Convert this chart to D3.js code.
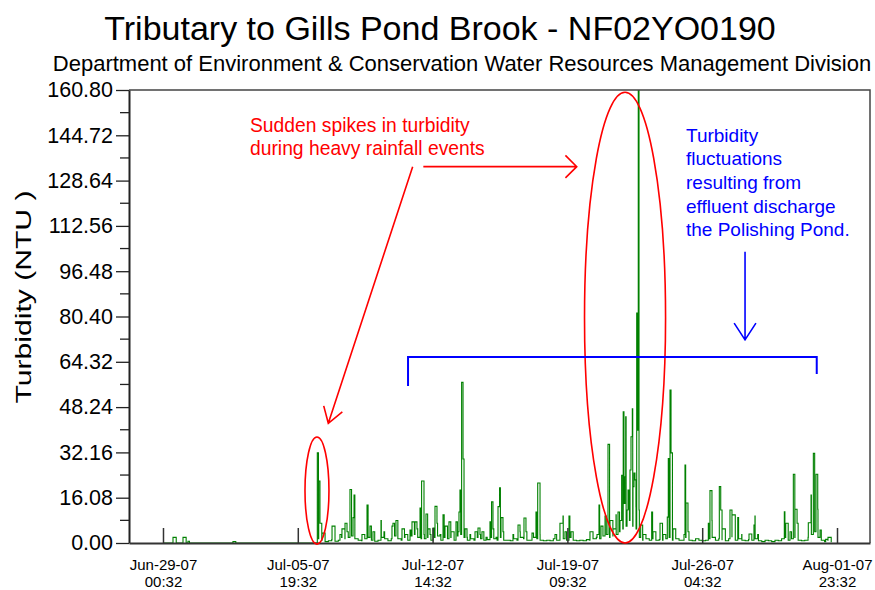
<!DOCTYPE html>
<html><head><meta charset="utf-8">
<script src="https://cdn.jsdelivr.net/npm/d3@7"></script>
<style>body{margin:0;background:#fff} svg{display:block}</style>
</head><body><svg id="c" width="875" height="590"></svg>
<script>
// ---------------- data ----------------
const titleText = "Tributary to Gills Pond Brook - NF02YO0190";
const subtitleText = "Department of Environment & Conservation Water Resources Management Division";
const yLabelText = "Turbidity (NTU  )";
const yTicks = [0, 16.08, 32.16, 48.24, 64.32, 80.40, 96.48, 112.56, 128.64, 144.72, 160.80];
const yTickLabels = ["0.00","16.08","32.16","48.24","64.32","80.40","96.48","112.56","128.64","144.72","160.80"];
const xTickDates = ["2007-06-29 00:32","2007-07-05 19:32","2007-07-12 14:32","2007-07-19 09:32","2007-07-26 04:32","2007-08-01 23:32"];
const xTickLine1 = ["Jun-29-07","Jul-05-07","Jul-12-07","Jul-19-07","Jul-26-07","Aug-01-07"];
const xTickLine2 = ["00:32","19:32","14:32","09:32","04:32","23:32"];
const xDomain = ["2007-06-27 07:26","2007-08-03 15:26"];
const seriesStart = "2007-06-29 00:32";
const baselineStepHours = 4;
// background turbidity, one reading every 4 h from seriesStart
const baselineValues = [
 0,0,0,0,0,0,0,0,0,0, 0,0,0,0,0,0,0,0,0,0, 0,0,0,0,0,0,0,0,0,0, 0,0,0,0,0,0,0,0,0,0, 0,0,0,0,0,0,0,
 1.5,1,0.5,0.8,1.2,0.6,1,2,1.5,2,
 2.5,1.5,1,0.8,1.5,2,1,0.6,1,2,
 1.5,0.8,1.5,2.5,1.5,1,2,1,2.5,3,
 2,1.5,1.5,2,1,2,2.5,1,2,1.5,
 2,1,2.5,3,2,1,1.5,1,2,1.5,
 1,1.2,2,1.5,1,2,1,1,0.8,1.5,
 1,2,1.5,1,1,2,1.5,1,0.8,1,
 0.8,1.5,1,2,1.5,1,2,1,0.8,1,
 0.8,1.2,1,1.5,2,1.5,2.5,3,2,2.5,
 3,4,5,6,8,6,5,2,1,1.5,
 1,1.5,1,1.2,1,1.5,2,1,1.5,1,
 1,2,1,0.8,1.5,1,0.8,1,1.5,2,
 1,1.5,1,0.8,1.5,2,1,1.5,1,0.8,
 1.2,1,1.5,0.8,0.5,1,0.8,0.5,1,0.8,
 1.5,2,1,1.5,2,1,0.8,1,2,3,
 4,2,1,0.5,1,0.3
];
// individual peaks: hours after seriesStart and turbidity (NTU)
const spikeHours = [12.1,24.2,30.2,84.6,
 186.6,188.3,189.8,192.3,204.4,214,216.4,220.1,222.5,226.1,229.8,231,240.6,246.7,250.3,253.9,263.6,267.2,
 276.9,278.1,281.7,289,292.6,298.7,301.1,304.7,307.1,310.8,312.7,315.6,318,320.4,322.9,326.5,328.9,331.3,
 335,338.6,341,345.8,348.3,354.3,356.7,357.9,359.1,361.1,362.8,365.2,367.6,371.2,377.3,380.9,383.3,385.7,
 390.6,395.4,397.3,399,402.7,405.1,407,408.7,411.1,423.2,429.3,431.7,436.5,438.9,446.2,451,453.1,455.9,
 474,480,483.7,486.1,490.9,493.4,516.3,524.8,527.2,529.6,534.5,538.1,540.5,544.1,547.8,550.2,552.6,554.6,
 556.5,557.4,558.6,559.5,561.1,562.3,563.5,564.7,565.9,567.5,568.3,569.5,570.7,571.9,572.8,573.8,574.7,
 575.6,577.6,580.4,590.9,592.5,601,604.6,609.8,611,613.1,614.3,616.7,630,631.2,632.4,634.8,659.4,661.4,
 663.8,672.7,674.4,676,685.6,688,695,699.8,708.6,714.6,715.8,719.1,751.3,753,758.2,762.2,764.2,766.7,
 780.3,783.6,786.4,789.6,791.7,794.5,801.3,804.1];
const spikeValues = [2,2,0.6,0.5,
 32,22,7,3.5,6,3,5,7,4,19,9,17,3,13.5,6,4,8,4,
 6,7,8,5,3,4.6,7.5,7.5,5,12.4,22,3,10.3,5,3,5.3,13,7,
 3,10,6,7.5,4,7.5,4,11,18.8,57,29.8,5,2,3,4,5.3,3,4,
 2,7.5,14.6,5,2,12.9,19.6,9,4,3,6.4,4,8.9,4,3.5,11,21.3,3,
 3,7,9.6,4,9.6,4,4,3,13.5,6,9.6,35,8,5,10,11,8,24,
 46.6,14,23.5,44.8,11.7,18.8,12,25.9,37.7,47.6,20,24.8,22.4,12.9,81.6,40,160.8,
 11.7,6.4,3,11,4,7,3,9.2,30,54.3,32,5,3,27.7,14.2,4,7,18.6,
 8,20,11.7,5,11.7,10,9,3,3.2,6.4,9.6,3,11.1,7,4,24.4,12,7,
 7.2,17,31.8,24.4,12,4.6,1.3,2];

// ---------------- setup ----------------
const FONT = "'Liberation Sans', Arial, sans-serif";
const svg = d3.select("#c");
const plot = {left:129, right:870, top:90, bottom:543};
const parse = d3.timeParse("%Y-%m-%d %H:%M");
const x = d3.scaleTime().domain(xDomain.map(parse)).range([plot.left, plot.right]);
const y = d3.scaleLinear().domain([0, 160.8]).range([plot.bottom, plot.top]);
const t0 = parse(seriesStart);
const atHours = h => new Date(t0.getTime() + h * 3600e3);
const ax = h => x(atHours(h));
const ay = v => y(v);

const series = baselineValues.map((v, i) => ({t: atHours(i * baselineStepHours), v}))
  .concat(spikeHours.map((h, i) => ({t: atHours(h), v: spikeValues[i]})))
  .sort((a, b) => a.t - b.t);

svg.append("rect").attr("width", 875).attr("height", 590).attr("fill", "#fff");

// title
svg.append("text").attr("x", 440).attr("y", 40).attr("text-anchor", "middle")
  .attr("font-family", FONT).attr("font-size", 34).attr("fill", "#000").text(titleText);
svg.append("text").attr("x", 462).attr("y", 71).attr("text-anchor", "middle")
  .attr("font-family", FONT).attr("font-size", 22).attr("fill", "#000").text(subtitleText);

// clip
svg.append("clipPath").attr("id", "clip").append("rect")
  .attr("x", plot.left).attr("y", plot.top).attr("width", plot.right - plot.left).attr("height", plot.bottom - plot.top);

// data line
svg.append("path").datum(series).attr("clip-path", "url(#clip)")
  .attr("fill", "none").attr("stroke", "#008000").attr("stroke-width", 1.1)
  .attr("d", d3.line().curve(d3.curveStepAfter).x(d => x(d.t)).y(d => y(d.v)));

// frame (top & right)
svg.append("path").attr("fill", "none").attr("stroke", "#444").attr("stroke-width", 1.5)
  .attr("d", `M${plot.left},${plot.top}H${plot.right}V${plot.bottom}`);

// y axis
const yAxis = svg.append("g").attr("transform", `translate(${plot.left},0)`)
  .call(d3.axisLeft(y).tickValues(yTicks).tickFormat((d, i) => yTickLabels[i]).tickSize(13).tickPadding(3).tickSizeOuter(0));
yAxis.select(".domain").attr("stroke", "#222").attr("stroke-width", 2);
yAxis.selectAll(".tick line").attr("stroke", "#222").attr("stroke-width", 1.3);
yAxis.selectAll(".tick text").attr("font-family", FONT).attr("font-size", 21.5).attr("fill", "#000");
yAxis.selectAll(".minor").data(d3.pairs(yTicks).map(p => (p[0] + p[1]) / 2)).enter().append("line")
  .attr("x1", -9).attr("x2", 0).attr("y1", d => y(d)).attr("y2", d => y(d)).attr("stroke", "#222").attr("stroke-width", 1.3);

// x axis
const xDates = xTickDates.map(parse);
const xAxis = svg.append("g").attr("transform", `translate(0,${plot.bottom})`)
  .call(d3.axisBottom(x).tickValues(xDates).tickFormat("").tickSizeInner(-15).tickSizeOuter(0));
xAxis.select(".domain").attr("stroke", "#333").attr("stroke-width", 2);
xAxis.selectAll(".tick line").attr("stroke", "#333").attr("stroke-width", 1.5);
xAxis.selectAll(".tick").each(function(d, i) {
  const g = d3.select(this);
  g.append("text").attr("y", 27).attr("text-anchor", "middle").attr("font-family", FONT)
    .attr("font-size", 15).attr("fill", "#000").text(xTickLine1[i]);
  g.append("text").attr("y", 44).attr("text-anchor", "middle").attr("font-family", FONT)
    .attr("font-size", 15).attr("fill", "#000").text(xTickLine2[i]);
});

// y label
svg.append("text").attr("transform", "translate(31,297) rotate(-90)").attr("text-anchor", "middle")
  .attr("font-family", FONT).attr("font-size", 22).attr("fill", "#000")
  .attr("textLength", 213).attr("lengthAdjust", "spacingAndGlyphs").text(yLabelText);

// ---------------- annotations ----------------
const RED = "#ff0000", BLUE = "#0000ff";
function ellipse(h, v, rh, rv, color) {
  svg.append("ellipse").attr("cx", ax(h)).attr("cy", ay(v))
    .attr("rx", ax(h + rh) - ax(h)).attr("ry", ay(v - rv) - ay(v))
    .attr("fill", "none").attr("stroke", color).attr("stroke-width", 1.6);
}
function arrow(h1, v1, h2, v2, len, angDeg, color) {
  const x1 = ax(h1), y1 = ay(v1), x2 = ax(h2), y2 = ay(v2);
  const a = Math.atan2(y1 - y2, x1 - x2), da = angDeg * Math.PI / 180;
  const p = d3.path();
  p.moveTo(x1, y1); p.lineTo(x2, y2);
  p.moveTo(x2 + len * Math.cos(a + da), y2 + len * Math.sin(a + da)); p.lineTo(x2, y2);
  p.lineTo(x2 + len * Math.cos(a - da), y2 + len * Math.sin(a - da));
  svg.append("path").attr("d", p.toString()).attr("fill", "none").attr("stroke", color).attr("stroke-width", 1.6);
}
ellipse(186.2, 18.6, 14.5, 19.0, RED);
ellipse(558.7, 80.0, 49, 80.0, RED);
arrow(301.9, 133.6, 199.9, 42.5, 18, 33, RED);
arrow(314.8, 133.6, 500.3, 133.6, 16, 45, RED);
arrow(703.8, 103.4, 703.8, 72.1, 20, 33, BLUE);
svg.append("path").attr("fill", "none").attr("stroke", BLUE).attr("stroke-width", 2)
  .attr("d", d3.line()([[ax(296.3), ay(55.7)], [ax(296.3), ay(66.0)], [ax(790.5), ay(66.0)], [ax(790.5), ay(60.0)]]));

const redLines = ["Sudden spikes in turbidity", "during heavy rainfall events"];
const blueLines = ["Turbidity", "fluctuations", "resulting from", "effluent discharge", "the Polishing Pond."];
redLines.forEach((s, i) => svg.append("text").attr("x", ax(105.2)).attr("y", ay(145.9) + i * 23.5)
  .attr("font-family", FONT).attr("font-size", 19.3).attr("fill", RED).text(s));
blueLines.forEach((s, i) => svg.append("text").attr("x", ax(632.4)).attr("y", ay(142.45) + i * 23.7)
  .attr("font-family", FONT).attr("font-size", 19).attr("fill", BLUE).text(s));
</script></body></html>
